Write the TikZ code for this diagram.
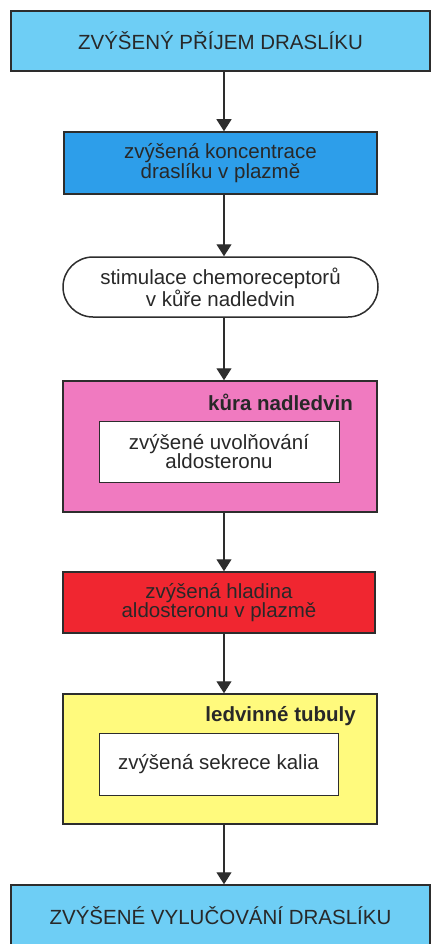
\documentclass[tikz,border=0pt]{standalone}
\usepackage{fontspec}
\setmainfont{Liberation Sans}
\usetikzlibrary{arrows.meta,calc}
\definecolor{lblue}{RGB}{110,206,245}
\definecolor{mblue}{RGB}{45,158,234}
\definecolor{pinkc}{RGB}{240,122,192}
\definecolor{redc}{RGB}{240,38,48}
\definecolor{yellowc}{RGB}{255,250,125}
\definecolor{edge}{RGB}{45,45,45}
\definecolor{txt}{RGB}{40,40,40}
\tikzset{
  box/.style={draw=edge,line width=1.5pt,rectangle,align=center,text=txt,
    font=\fontsize{20.5}{19.5}\selectfont,inner sep=0pt},
  inbox/.style={box,fill=white,line width=1pt},
  lbl/.style={anchor=east,text=txt,font=\fontsize{20.5}{19.5}\selectfont\bfseries,inner sep=0pt},
  arr/.style={draw=edge,line width=1.2pt,-{Triangle[width=15pt,length=12pt]}}
}
\begin{document}
\begin{tikzpicture}[x=1pt,y=-1pt]
\useasboundingbox (0,0) rectangle (432,944);
\node[box,fill=lblue,minimum width=419pt,minimum height=60pt] (top) at (220.5,41) {ZVÝŠENÝ PŘÍJEM DRASLÍKU};
\node[box,fill=mblue,minimum width=313pt,minimum height=62pt] (conc) at (220.5,163) {zvýšená koncentrace\\draslíku v plazmě};
\node[box,fill=white,rounded corners=30pt,minimum width=315pt,minimum height=60pt] (stim) at (220.5,287) {stimulace chemoreceptorů\\v kůře nadledvin};
\node[box,fill=pinkc,minimum width=314pt,minimum height=131pt] (kura) at (220,446.5) {};
\node[lbl] (kural) at (353,402) {kůra nadledvin};
\node[inbox,minimum width=240pt,minimum height=61pt] (uvol) at (219,451.5) {zvýšené uvolňování\\aldosteronu};
\node[box,fill=redc,minimum width=312pt,minimum height=61pt] (hlad) at (219,602.5) {zvýšená hladina\\aldosteronu v plazmě};
\node[box,fill=yellowc,minimum width=314pt,minimum height=130pt] (tub) at (220,759) {};
\node[lbl] (tubl) at (356,716) {ledvinné tubuly};
\node[inbox,minimum width=239pt,minimum height=62pt] (sekr) at (218.5,764) {zvýšená sekrece kalia};
\node[box,fill=lblue,minimum width=419pt,minimum height=66pt] (vyl) at (220.5,918) {};
\node[text=txt,font=\fontsize{20.5}{19.5}\selectfont,inner sep=0pt] (vylt) at (220.5,916) {ZVÝŠENÉ VYLUČOVÁNÍ DRASLÍKU};
\coordinate (ax) at (224,0);
\draw[arr] (top.south -| ax) -- (conc.north -| ax);
\draw[arr] (conc.south -| ax) -- (stim.north -| ax);
\draw[arr] (stim.south -| ax) -- (kura.north -| ax);
\draw[arr] (kura.south -| ax) -- (hlad.north -| ax);
\draw[arr] (hlad.south -| ax) -- (tub.north -| ax);
\draw[arr] (tub.south -| ax) -- (vyl.north -| ax);
\end{tikzpicture}
\end{document}
